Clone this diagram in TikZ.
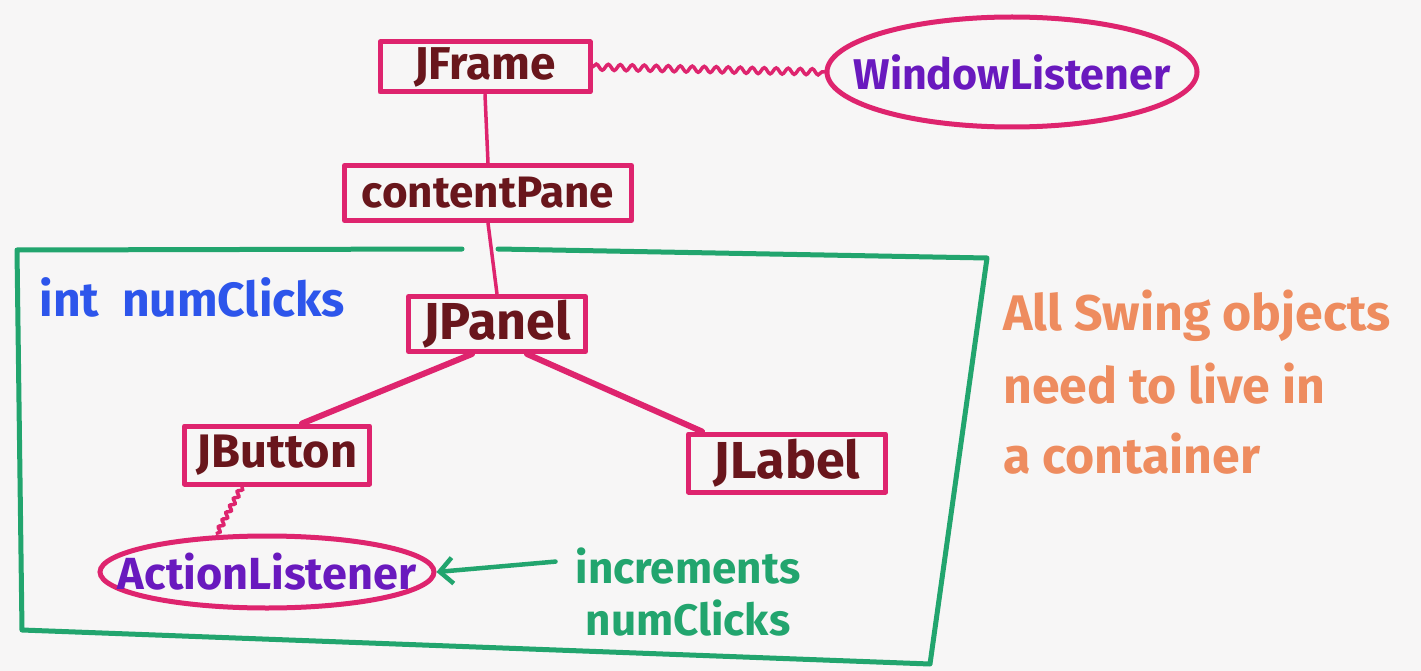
\documentclass[tikz,border=0pt]{standalone}
\usepackage{fontspec}
\setmainfont{Fira Sans}
\usetikzlibrary{decorations.pathmorphing,arrows.meta,shapes.geometric}
\definecolor{pinkln}{RGB}{222,36,110}
\definecolor{brownt}{RGB}{105,22,28}
\definecolor{purplet}{RGB}{105,25,190}
\definecolor{greenln}{RGB}{34,165,110}
\definecolor{bluet}{RGB}{45,85,235}
\definecolor{oranget}{RGB}{238,140,95}
\definecolor{paper}{RGB}{247,246,246}
\tikzset{
  hand/.style={font=\fontsize{#1}{#1}\selectfont\bfseries},
  hand/.default=44,
  classbox/.style={draw=pinkln, line width=5pt, text=brownt, inner sep=0pt, line join=round},
  listener/.style={ellipse, draw=pinkln, line width=5pt, inner sep=0pt},
  listenertext/.style={text=purplet, inner sep=0pt},
  link/.style={draw=pinkln, line width=3.5pt, line cap=round},
  thicklink/.style={link, line width=6pt},
  wavy/.style={link, decorate, decoration={snake, amplitude=#1, segment length=4*#1}},
  wavy/.default=2.5pt,
  contbox/.style={draw=greenln, line width=5pt, line cap=round, line join=round},
  note/.style={hand=50, align=left, anchor=north west, text=oranget}
}
\begin{document}
\begin{tikzpicture}[x=1pt,y=-1pt]
\fill[paper] (0,0) rectangle (1421,671);
\useasboundingbox (0,0) rectangle (1421,671);

% nodes
\node[classbox, hand=46, minimum width=210, minimum height=50] (jframe) at (485,67) {JFrame};
\node[listener, minimum width=370, minimum height=110] (wl) at (1012,72) {};
\node[listenertext, hand=43] (wltext) at (wl) {WindowListener};
\node[classbox, hand=44, minimum width=287, minimum height=55] (cpane) at (488,193) {contentPane};
\node[classbox, hand=52, minimum width=177, minimum height=55] (jpanel) at (497,324) {JPanel};
\node[classbox, hand=47, minimum width=185, minimum height=58] (jbutton) at (277,455) {JButton};
\node[classbox, hand=52, minimum width=197, minimum height=58] (jlabel) at (787,463) {JLabel};
\node[listener, minimum width=334, minimum height=72] (al) at (267,572) {};
\node[listenertext, hand=45] (altext) at (al) {ActionListener};

% green container
\coordinate (g1) at (462,249);
\coordinate (g2) at (17,250);
\coordinate (g3) at (22,630);
\coordinate (g4) at (930,664);
\coordinate (g5) at (987,258);
\coordinate (g6) at (498,249);
\draw[contbox] (g1) -- (g2) -- (g3) -- (g4) -- (g5) -- (g6);

% texts
\node[hand=48, text=bluet, anchor=west] (numclicks) at (36,297) {int\ \ numClicks};
\node[hand=44, text=greenln, align=center, inner sep=0pt] (incr) at (688,592) {increments\\[8pt]numClicks};
\node[note, inner sep=0pt] (swing) at (1003,290) {All Swing objects\\[20pt]need to live in\\[20pt]a container};

% connectors
\draw[wavy=3pt] (jframe.east) -- (wl.west);
\draw[link] (jframe.south) -- (cpane.north);
\draw[link] (cpane.south) -- (jpanel.north);
\draw[thicklink] ([xshift=-25pt]jpanel.south) -- ([xshift=25pt]jbutton.north);
\draw[thicklink] ([xshift=30pt]jpanel.south) -- ([xshift=-85pt]jlabel.north);
\draw[wavy=2pt] ([xshift=-35pt]jbutton.south) -- ([xshift=-50pt]al.north);
\coordinate (arrstart) at ([xshift=-20pt,yshift=-14pt]incr.north west);
\draw[draw=greenln, line width=4.5pt, line cap=round, -{Straight Barb[length=13pt,width=26pt]}] (arrstart) -- (al.east);
\end{tikzpicture}
\end{document}
